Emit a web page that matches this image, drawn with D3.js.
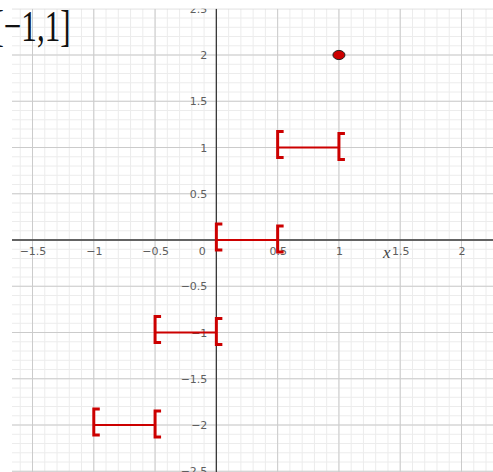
<!DOCTYPE html>
<meta charset="utf-8">
<head>
    <script src="https://d3js.org/d3.v7.min.js"></script>
    <style>
        body { margin: 0; background: #fff; }
        .tick text { font-family: "DejaVu Sans", sans-serif; font-size: 11px; fill: #5e5e5e; }
    </style>
</head>
<body>
<div id="my_dataviz"></div>

<script>

    // steps of y = floor(2x) on [-1, 1]
    const segStart = [-1, -0.5, 0, 0.5]
    const segEnd = [-0.5, 0, 0.5, 1]
    const segY = [-2, -1, 0, 1]
    const pointX = [1]
    const pointY = [2]

    const xTicks = [-1.5, -1, -0.5, 0, 0.5, 1, 1.5, 2]
    const yTicks = [-2.5, -2, -1.5, -1, -0.5, 0.5, 1, 1.5, 2, 2.5]
    const title = "[−1,1]"

    const width = 493, height = 472
    const plotLeft = 12, plotTop = 8.75

    const svg = d3.select("#my_dataviz").append("svg")
        .attr("width", width)
        .attr("height", height)
        .style("display", "block")

    const x = d3.scaleLinear()
        .domain([-1.5, 2])
        .range([32.5, 461.5])

    const y = d3.scaleLinear()
        .domain([-2, 2])
        .range([425, 55])

    svg.append("clipPath").attr("id", "plot")
        .append("rect")
        .attr("x", plotLeft).attr("y", plotTop)
        .attr("width", width - plotLeft).attr("height", height - plotTop)

    const chart = svg.append("g").attr("clip-path", "url(#plot)")

    // grid: minor every 0.1, major every 0.5
    const minorX = d3.range(-17, 23).map(i => i / 10)
    const minorY = d3.range(-26, 26).map(i => i / 10)
    const majorX = d3.range(-4, 5).map(i => i / 2)
    const majorY = d3.range(-5, 6).map(i => i / 2)

    function grid(xs, ys, color) {
        chart.append("g").selectAll("line").data(xs).join("line")
            .attr("x1", d => x(d)).attr("x2", d => x(d))
            .attr("y1", plotTop).attr("y2", height)
            .attr("stroke", color).attr("stroke-width", 1)
        chart.append("g").selectAll("line").data(ys).join("line")
            .attr("y1", d => y(d)).attr("y2", d => y(d))
            .attr("x1", plotLeft).attr("x2", width)
            .attr("stroke", color).attr("stroke-width", 1)
    }
    grid(minorX, minorY, "#ececec")
    grid(majorX, majorY, "#cbcbcb")

    // axes lines
    chart.append("line")
        .attr("x1", plotLeft).attr("x2", width)
        .attr("y1", y(0)).attr("y2", y(0))
        .attr("stroke", "#3a3a3a").attr("stroke-width", 1.3)
    chart.append("line")
        .attr("x1", x(0)).attr("x2", x(0))
        .attr("y1", plotTop).attr("y2", height)
        .attr("stroke", "#3a3a3a").attr("stroke-width", 1.3)

    const fmt = d => String(d).replace("-", "−")

    const bottomAxis = d3.axisBottom(x).tickValues(xTicks).tickSize(0).tickPadding(7).tickFormat(fmt)
    const gx = chart.append("g")
        .attr("transform", `translate(0, ${y(0)})`)
        .call(bottomAxis)
    gx.select(".domain").remove()
    gx.selectAll(".tick").filter(d => d === 0).select("text")
        .attr("text-anchor", "end").attr("x", -11)

    const leftAxis = d3.axisLeft(y).tickValues(yTicks).tickSize(0).tickPadding(9).tickFormat(fmt)
    const gy = chart.append("g")
        .attr("transform", `translate(${x(0)}, 0)`)
        .call(leftAxis)
    gy.select(".domain").remove()

    // axis name
    chart.append("text")
        .attr("x", 383).attr("y", 258)
        .attr("font-family", "Liberation Serif, serif")
        .attr("font-style", "italic")
        .attr("font-size", 17)
        .attr("fill", "#444")
        .text("x")

    // step segments
    const red = "#cc0000"
    const steps = segY.map((v, i) => ({ a: segStart[i], b: segEnd[i], v: v }))

    chart.append("g").selectAll("line").data(steps).join("line")
        .attr("x1", d => x(d.a)).attr("x2", d => x(d.b))
        .attr("y1", d => y(d.v)).attr("y2", d => y(d.v))
        .attr("stroke", red).attr("stroke-width", 2)

    function bracket(px, py) {
        return `M${px + 6},${py - 13} H${px} V${py + 13} H${px + 6}`
    }
    chart.append("g").selectAll("path").data(steps).join("path")
        .attr("d", d => bracket(x(d.a), y(d.v) - 3))
        .attr("fill", "none").attr("stroke", red).attr("stroke-width", 3)
    chart.append("g").selectAll("path").data(steps).join("path")
        .attr("d", d => bracket(x(d.b), y(d.v) - 1))
        .attr("fill", "none").attr("stroke", red).attr("stroke-width", 3)

    chart.append("g").selectAll("ellipse").data(pointX).join("ellipse")
        .attr("cx", d => x(d))
        .attr("cy", (d, i) => y(pointY[i]))
        .attr("rx", 6).attr("ry", 4.6)
        .attr("fill", red).attr("stroke", "#222").attr("stroke-width", 1)

    // domain label
    svg.append("text")
        .attr("transform", "translate(-6.5, 41) scale(0.84, 1.2)")
        .attr("font-family", "Liberation Serif, serif")
        .attr("font-size", 37)
        .attr("fill", "#111")
        .text(title)

</script>
</body>
